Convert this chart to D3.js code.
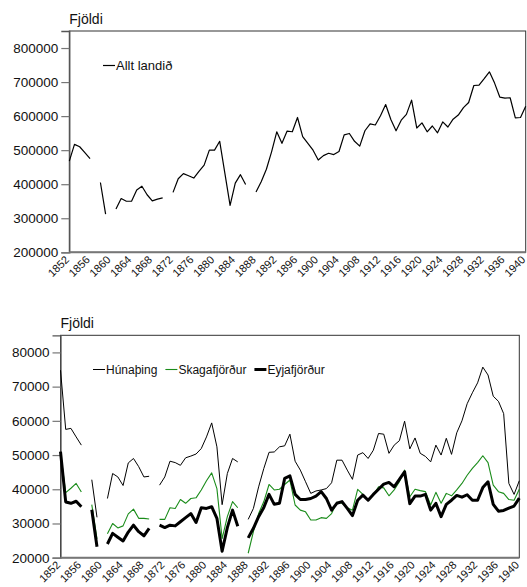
<!DOCTYPE html>
<html>
<head>
<meta charset="utf-8">
<script src="https://cdn.jsdelivr.net/npm/d3@7"></script>
<style>
  html, body { margin: 0; padding: 0; background: #fff; }
  svg { display: block; font-family: "Liberation Sans", Arial, sans-serif; }
</style>
</head>
<body>
<svg id="chart" width="527" height="587"></svg>
<script>
// ---------- DATA ----------
const years = d3.range(1852, 1941);
const xTickYears = [1852,1856,1860,1864,1868,1872,1876,1880,1884,1888,1892,1896,1900,1904,1908,1912,1916,1920,1924,1928,1932,1936,1940];
const yTicksTop = [200000,300000,400000,500000,600000,700000,800000];
const yTicksBottom = [20000,30000,40000,50000,60000,70000,80000];

const alltLandid = [
 468000,517000,510000,493000,475000,null,405000,312000,null,327000,
 358000,350000,350000,383000,394000,369000,351000,356000,360000,null,
 376000,416000,431000,425000,418000,438000,456000,500000,500000,526000,
 432000,338000,403000,428000,399000,null,377000,407000,444000,495000,
 554000,520000,556000,554000,596000,540000,520000,500000,471000,484000,
 491000,487000,496000,545000,549000,526000,512000,557000,577000,574000,
 601000,634000,590000,557000,588000,605000,647000,565000,580000,554000,
 571000,551000,583000,568000,591000,603000,625000,640000,690000,691000,
 710000,730000,697000,656000,653000,654000,595000,596000,629000
];

const hunathing = [
 74800,57500,57800,55300,52900,null,42800,31800,null,37300,
 44600,43600,41100,47700,49000,46600,43600,43800,null,41200,
 43600,48200,47800,47000,49200,49700,50300,51900,55300,59400,
 52400,35500,44600,49000,48000,null,31200,34400,40700,46100,
 50800,50900,52400,52700,56100,48200,45600,42200,38800,39500,
 39800,40200,41900,48500,48500,45600,42900,50000,50700,49000,
 51400,56300,56100,50500,52900,54200,59900,51800,55000,50500,
 49600,48000,52900,50000,54900,50200,56500,60000,65000,68200,
 71100,75700,73400,67200,65700,62100,41700,38500,42500
];

const skagafjordur = [
 50800,39000,40300,41700,39200,null,35500,25500,null,27000,
 30000,28700,29300,32800,34200,31500,31500,31300,null,31200,
 31200,34600,34400,37000,35900,37300,37500,39800,42500,44800,
 40200,25600,32000,36400,34600,null,21300,27600,32900,36400,
 41400,39800,40000,41400,42700,35400,33900,33400,31000,31000,
 31700,31500,32900,36200,35900,34600,33900,40000,38500,37000,
 38300,40700,40400,38100,39800,42200,45600,37800,40000,39600,
 39300,35400,39100,35900,38800,38100,39800,41700,44100,46100,
 47800,49800,47800,41200,39300,38800,37000,36800,40000
];

const eyjafjordur = [
 51000,36300,35900,36500,34900,null,34000,23200,null,24000,
 27100,26000,24900,27500,29500,27600,26400,28600,null,29500,
 28800,29500,29300,30500,31700,32900,30300,34600,34400,34900,
 31500,21900,28800,33900,29200,null,25800,28600,32000,34700,
 38500,35600,35900,43200,43900,38500,37000,37000,37300,38000,
 39300,37300,33900,35900,36400,34400,32300,36800,38300,36800,
 38500,40000,41500,42000,40700,42900,45100,35800,38000,38000,
 38500,33900,35900,32000,35600,36800,38200,37700,38400,36800,
 36800,40500,42200,35600,33600,33800,34500,35100,37400
];

const titleText = "Fjöldi";
const topSeries = [{ name: "Allt landið", values: alltLandid, color: "#000", width: 1.2 }];
const bottomSeries = [
  { name: "Húnaþing", values: hunathing, color: "#000", width: 1 },
  { name: "Skagafjörður", values: skagafjordur, color: "#1a8c1a", width: 1.1 },
  { name: "Eyjafjörður", values: eyjafjordur, color: "#000", width: 3 }
];

// ---------- DRAW ----------
const svg = d3.select("#chart");

function panel(cfg) {
  const g = svg.append("g");
  const x = d3.scaleLinear().domain([1852, 1940]).range([cfg.left, cfg.right]);
  const y = d3.scaleLinear().domain(cfg.yDomain).range([cfg.bottom, cfg.top]);

  // frame
  g.append("rect")
    .attr("x", cfg.left).attr("y", cfg.top)
    .attr("width", cfg.right - cfg.left).attr("height", cfg.bottom - cfg.top)
    .attr("fill", "none").attr("stroke", "#333").attr("stroke-width", 1);

  // y axis
  const ya = g.append("g")
    .attr("transform", `translate(${cfg.left},0)`)
    .call(d3.axisLeft(y).tickValues(cfg.yTicks).tickSize(8).tickPadding(3).tickFormat(d3.format("d")));
  ya.select(".domain").attr("stroke", "#555").attr("stroke-width", 1.3);
  ya.selectAll(".tick line").attr("stroke", "#777").attr("stroke-width", 1.2);
  ya.selectAll("text").attr("font-size", "13.5px").attr("fill", "#111")
    .attr("font-family", "Liberation Sans, Arial, sans-serif");

  // bottom axis line
  g.append("line")
    .attr("x1", cfg.left).attr("x2", cfg.right)
    .attr("y1", cfg.bottom).attr("y2", cfg.bottom)
    .attr("stroke", "#777").attr("stroke-width", 2);

  // x labels (rotated)
  g.selectAll("text.xl").data(xTickYears).join("text")
    .attr("class", "xl")
    .attr("transform", d => `translate(${x(d) + 0.5},${cfg.bottom + 8}) rotate(-45)`)
    .attr("text-anchor", "end")
    .attr("font-size", "11px")
    .attr("fill", "#111")
    .text(d => d);

  // title
  g.append("text").attr("x", cfg.left).attr("y", cfg.titleY)
    .attr("font-size", "14px").attr("fill", "#111").text(titleText);

  // lines
  const line = d3.line()
    .defined(d => d[1] != null)
    .x(d => x(d[0])).y(d => y(d[1]));

  cfg.series.forEach(s => {
    g.append("path")
      .datum(years.map((yr, i) => [yr, s.values[i]]))
      .attr("fill", "none")
      .attr("stroke", s.color)
      .attr("stroke-width", s.width)
      .attr("stroke-linejoin", "round")
      .attr("d", line);
  });

  // legend
  let lx = cfg.legendX;
  cfg.series.forEach(s => {
    g.append("line")
      .attr("x1", lx).attr("x2", lx + 12)
      .attr("y1", cfg.legendY - 4.5).attr("y2", cfg.legendY - 4.5)
      .attr("stroke", s.color).attr("stroke-width", s.width);
    const t = g.append("text").attr("x", lx + 13).attr("y", cfg.legendY)
      .attr("font-size", cfg.legendFont + "px").attr("fill", "#111").text(s.name);
    lx += 13 + t.node().getComputedTextLength() + 8;
  });
}

panel({
  left: 69.3, right: 525.7, top: 31, bottom: 252.3,
  yDomain: [200000, 850000], yTicks: yTicksTop,
  series: topSeries, titleY: 24,
  legendX: 103, legendY: 70, legendFont: 13
});

panel({
  left: 60.5, right: 519.3, top: 335.3, bottom: 557.7,
  yDomain: [20000, 85000], yTicks: yTicksBottom,
  series: bottomSeries, titleY: 328,
  legendX: 93, legendY: 374, legendFont: 12
});
</script>
</body>
</html>
